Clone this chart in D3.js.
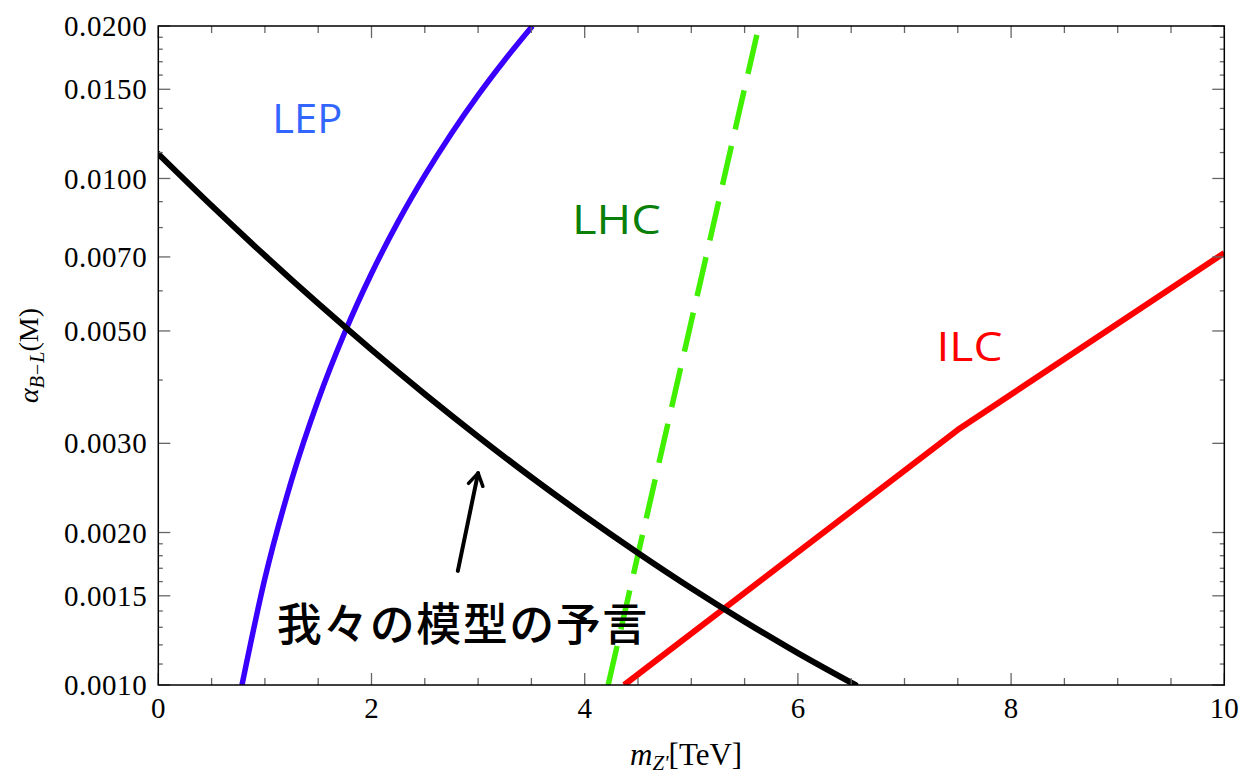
<!DOCTYPE html>
<html>
<head>
<meta charset="utf-8">
<script src="https://cdn.jsdelivr.net/npm/d3@7"></script>
<style>
  html, body { margin: 0; padding: 0; background: #fff; }
  svg { display: block; }
</style>
</head>
<body>
<svg id="chart" width="1243" height="777"></svg>
<script>
// Z' mass [TeV] vs B-L coupling: experimental bounds and model prediction
const predX = [0, 0.5, 1, 1.5, 2, 2.5, 3, 3.5, 4, 4.5, 5, 5.5, 6, 6.54];
const predY = [0.01118, 0.008837, 0.007045, 0.005662, 0.00459, 0.003753, 0.003094,
               0.002571, 0.002156, 0.001822, 0.001552, 0.001334, 0.001156, 0.001];

const lepX = [0.785, 1.0, 1.25, 1.5, 1.75, 2.0, 2.25, 2.5, 2.75, 3.0, 3.25, 3.51];
const lepY = [0.001, 0.001623, 0.002536, 0.003652, 0.00497, 0.006492, 0.008217,
              0.01014, 0.01227, 0.01461, 0.01714, 0.02];

const lhcX = [4.22, 4.5, 5.0, 5.5, 5.625];
const lhcY = [0.001, 0.00181, 0.005222, 0.01507, 0.01963];

const ilcX = [4.37, 7.5, 10];
const ilcY = [0.001, 0.00319, 0.00713];

const xMajorTicks = [0, 2, 4, 6, 8, 10];
const xMinorTicks = [0.5, 1, 1.5, 2.5, 3, 3.5, 4.5, 5, 5.5, 6.5, 7, 7.5, 8.5, 9, 9.5];
const yMajorTicks = [0.001, 0.0015, 0.002, 0.003, 0.005, 0.007, 0.01, 0.015, 0.02];
const yTickLabels = ["0.0010", "0.0015", "0.0020", "0.0030", "0.0050", "0.0070", "0.0100", "0.0150", "0.0200"];
const yMinorTicks = [0.0011, 0.0012, 0.0013, 0.0014, 0.0016, 0.0017, 0.0018, 0.0019,
                     0.004, 0.006, 0.008, 0.009, 0.01125, 0.0125, 0.01375,
                     0.016, 0.017, 0.018, 0.019];

const curveLabels = [
  { text: "LEP", x: 1.07, y: 0.0123, color: "#3366ff", width: 70 },
  { text: "LHC", x: 3.88, y: 0.00777, color: "#0a800a", width: 89 },
  { text: "ILC", x: 7.3, y: 0.00437, color: "#ff0000", width: 66 }
];
const noteText = "我々の模型の予言";
const notePos = { x: 1.11, y: 0.001313 };
const arrowFrom = { x: 2.81, y: 0.00168 };
const arrowTo = { x: 3.0, y: 0.00262 };

const margin = { left: 158.3, right: 1224.3, top: 26, bottom: 685 };
const svg = d3.select("#chart");

const x = d3.scaleLinear().domain([0, 10]).range([margin.left, margin.right]);
const y = d3.scaleLog().domain([0.001, 0.02]).range([margin.bottom, margin.top]);

svg.append("defs").append("clipPath").attr("id", "plotClip")
  .append("rect")
  .attr("x", margin.left).attr("y", margin.top)
  .attr("width", margin.right - margin.left).attr("height", margin.bottom - margin.top);

const plot = svg.append("g").attr("clip-path", "url(#plotClip)");

const zip = (a, b) => a.map((v, i) => [v, b[i]]);
const smooth = d3.line().x(d => x(d[0])).y(d => y(d[1])).curve(d3.curveMonotoneX);
const straight = d3.line().x(d => x(d[0])).y(d => y(d[1]));

// LEP bound
plot.append("path").datum(zip(lepX, lepY))
  .attr("d", smooth)
  .attr("fill", "none").attr("stroke", "#3a00ff").attr("stroke-width", 5.5);

// LHC reach (dashed)
plot.append("path").datum(zip(lhcX, lhcY))
  .attr("d", smooth)
  .attr("fill", "none").attr("stroke", "#40f000").attr("stroke-width", 5.5)
  .attr("stroke-dasharray", "40,17");

// ILC reach
plot.append("path").datum(zip(ilcX, ilcY))
  .attr("d", straight)
  .attr("fill", "none").attr("stroke", "#ff0000").attr("stroke-width", 6)
  .attr("stroke-linejoin", "round");

// model prediction
plot.append("path").datum(zip(predX, predY))
  .attr("d", smooth)
  .attr("fill", "none").attr("stroke", "#000").attr("stroke-width", 6)
  .attr("stroke-linecap", "round");

// ticks on all four sides of the frame
const ticks = svg.append("g");
const tickColor = "#666";
function hTick(v, len, side) {
  const yy = y(v);
  const x0 = side === "left" ? margin.left : margin.right;
  const x1 = side === "left" ? margin.left + len : margin.right - len;
  ticks.append("line").attr("x1", x0).attr("x2", x1)
    .attr("y1", yy).attr("y2", yy).attr("stroke", tickColor).attr("stroke-width", 1.3);
}
function vTick(v, len, side) {
  const xx = x(v);
  const y0 = side === "bottom" ? margin.bottom : margin.top;
  const y1 = side === "bottom" ? margin.bottom - len : margin.top + len;
  ticks.append("line").attr("x1", xx).attr("x2", xx)
    .attr("y1", y0).attr("y2", y1).attr("stroke", tickColor).attr("stroke-width", 1.3);
}
yMajorTicks.forEach(v => { hTick(v, 12, "left"); hTick(v, 12, "right"); });
yMinorTicks.forEach(v => { hTick(v, 4.5, "left"); hTick(v, 4.5, "right"); });
xMajorTicks.forEach(v => { vTick(v, 12, "bottom"); vTick(v, 12, "top"); });
xMinorTicks.forEach(v => { vTick(v, 7, "bottom"); vTick(v, 7, "top"); });

// frame
svg.append("rect")
  .attr("x", margin.left).attr("y", margin.top)
  .attr("width", margin.right - margin.left).attr("height", margin.bottom - margin.top)
  .attr("fill", "none").attr("stroke", "#000").attr("stroke-width", 1.5);

// tick labels
const serif = "'Liberation Serif', 'DejaVu Serif', serif";
svg.append("g").selectAll("text").data(yMajorTicks).join("text")
  .attr("x", margin.left - 11).attr("y", d => y(d))
  .attr("dy", "0.35em").attr("text-anchor", "end")
  .attr("font-family", serif).attr("font-size", 29).attr("letter-spacing", 0.6)
  .attr("fill", "#000")
  .text((d, i) => yTickLabels[i]);

svg.append("g").selectAll("text").data(xMajorTicks).join("text")
  .attr("x", d => x(d)).attr("y", margin.bottom + 33)
  .attr("text-anchor", "middle")
  .attr("font-family", serif).attr("font-size", 29).attr("fill", "#000")
  .text(d => d);

// axis titles
const xt = svg.append("text").attr("x", 630).attr("y", 765)
  .attr("font-family", serif).attr("font-size", 31).attr("fill", "#000");
xt.append("tspan").attr("font-style", "italic").text("m");
xt.append("tspan").attr("font-style", "italic").attr("font-size", 21).attr("dy", 5).text("Z'");
xt.append("tspan").attr("dy", -5).text("[TeV]");

const yt = svg.append("text")
  .attr("transform", `translate(38,${(margin.top + margin.bottom) / 2}) rotate(-90)`)
  .attr("text-anchor", "middle")
  .attr("font-family", serif).attr("font-size", 28).attr("fill", "#000");
yt.append("tspan").attr("font-style", "italic").text("α");
yt.append("tspan").attr("font-style", "italic").attr("font-size", 20).attr("dy", 6).text("B−L");
yt.append("tspan").attr("dy", -6).text("(M)");

// curve labels
const sans = "'Open Sans', 'Lato', sans-serif";
svg.append("g").selectAll("text").data(curveLabels).join("text")
  .attr("x", d => x(d.x)).attr("y", d => y(d.y))
  .attr("font-family", sans).attr("font-size", 41).attr("fill", d => d.color)
  .attr("textLength", d => d.width).attr("lengthAdjust", "spacingAndGlyphs")
  .text(d => d.text);

// annotation text and arrow
svg.append("text")
  .attr("x", x(notePos.x)).attr("y", y(notePos.y))
  .attr("dy", "0.36em")
  .attr("font-family", "'Noto Sans CJK JP', sans-serif").attr("font-size", 45)
  .attr("font-weight", 500)
  .attr("letter-spacing", 1.5).attr("fill", "#000")
  .text(noteText);

const ax1 = x(arrowFrom.x), ay1 = y(arrowFrom.y), ax2 = x(arrowTo.x), ay2 = y(arrowTo.y);
svg.append("line").attr("x1", ax1).attr("y1", ay1).attr("x2", ax2).attr("y2", ay2)
  .attr("stroke", "#000").attr("stroke-width", 4).attr("stroke-linecap", "round");
const ang = Math.atan2(ay2 - ay1, ax2 - ax1);
const headLen = 14, spread = 0.55;
svg.append("path")
  .attr("d", `M${ax2 - headLen * Math.cos(ang - spread)},${ay2 - headLen * Math.sin(ang - spread)}
              L${ax2},${ay2}
              L${ax2 - headLen * Math.cos(ang + spread)},${ay2 - headLen * Math.sin(ang + spread)}`)
  .attr("fill", "none").attr("stroke", "#000").attr("stroke-width", 3.5)
  .attr("stroke-linecap", "round").attr("stroke-linejoin", "round");
</script>
</body>
</html>
